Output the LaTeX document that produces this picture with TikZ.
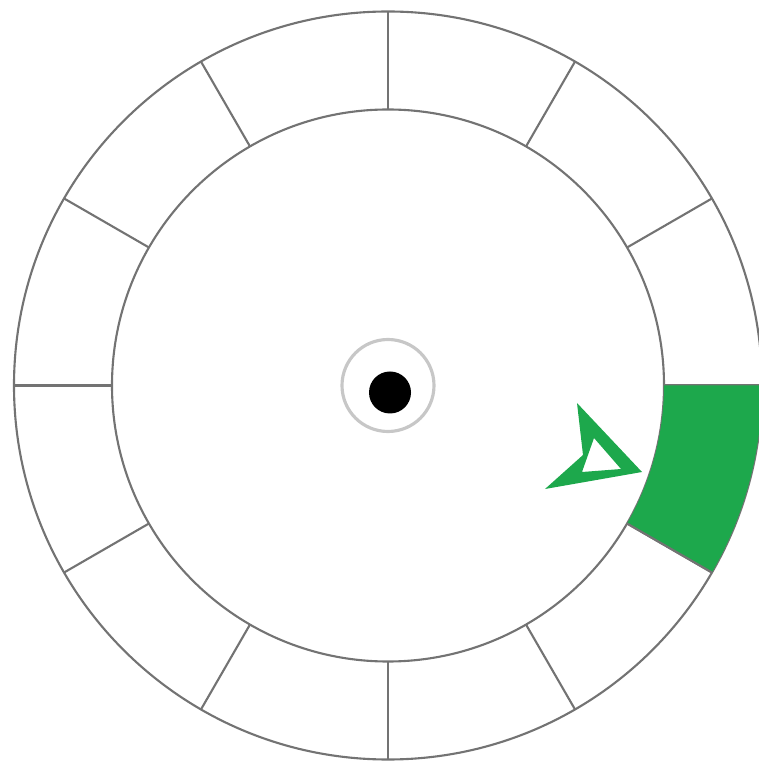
\documentclass[tikz,border=0pt]{standalone}
\usepackage{tikz}
\definecolor{dialGreen}{RGB}{29,168,76}
\tikzset{
dialLine/.style={
	draw=black!55, line width=0.6pt
}
, dialFill/.style={
	fill=dialGreen, draw=none
}
, hubRing/.style={
	draw=black!22, line width=0.9pt
}
, hubDot/.style={
	fill=black, draw=none
}
, pointerShape/.style={
	fill=dialGreen, even odd rule, draw=none
}
}

\begin{document}
\begin{tikzpicture}[x=0.1mm,y=0.1mm]
	\useasboundingbox (-388,-376.5) rectangle (370,385.5);
	\coordinate (Hub) at (0,0);
	% rings
	\draw[dialLine] (Hub) circle (374);
	\draw[dialLine] (Hub) circle (276);
	\foreach \a in {0,30,...,330}
		\draw[dialLine] (\a:276) -- (\a:374);
	% selected slot
	\fill[dialFill] (0:276) -- (0:374) arc (0:-30:374) -- (-30:276) arc (-30:0:276) -- cycle;
	\draw[dialLine] (-30:276) -- (-30:374);
	% hub
	\draw[hubRing] (Hub) circle (46);
	\fill[hubDot] (2,-7) circle (21);
	% pointer
	\fill[pointerShape]
		(189,-17.5) -- (254,-86.5) -- (157,-103.5) -- (195,-69.5) -- cycle
		(206,-52.5) -- (233,-83.5) -- (194,-86.5) -- cycle;
\end{tikzpicture}
\end{document}
